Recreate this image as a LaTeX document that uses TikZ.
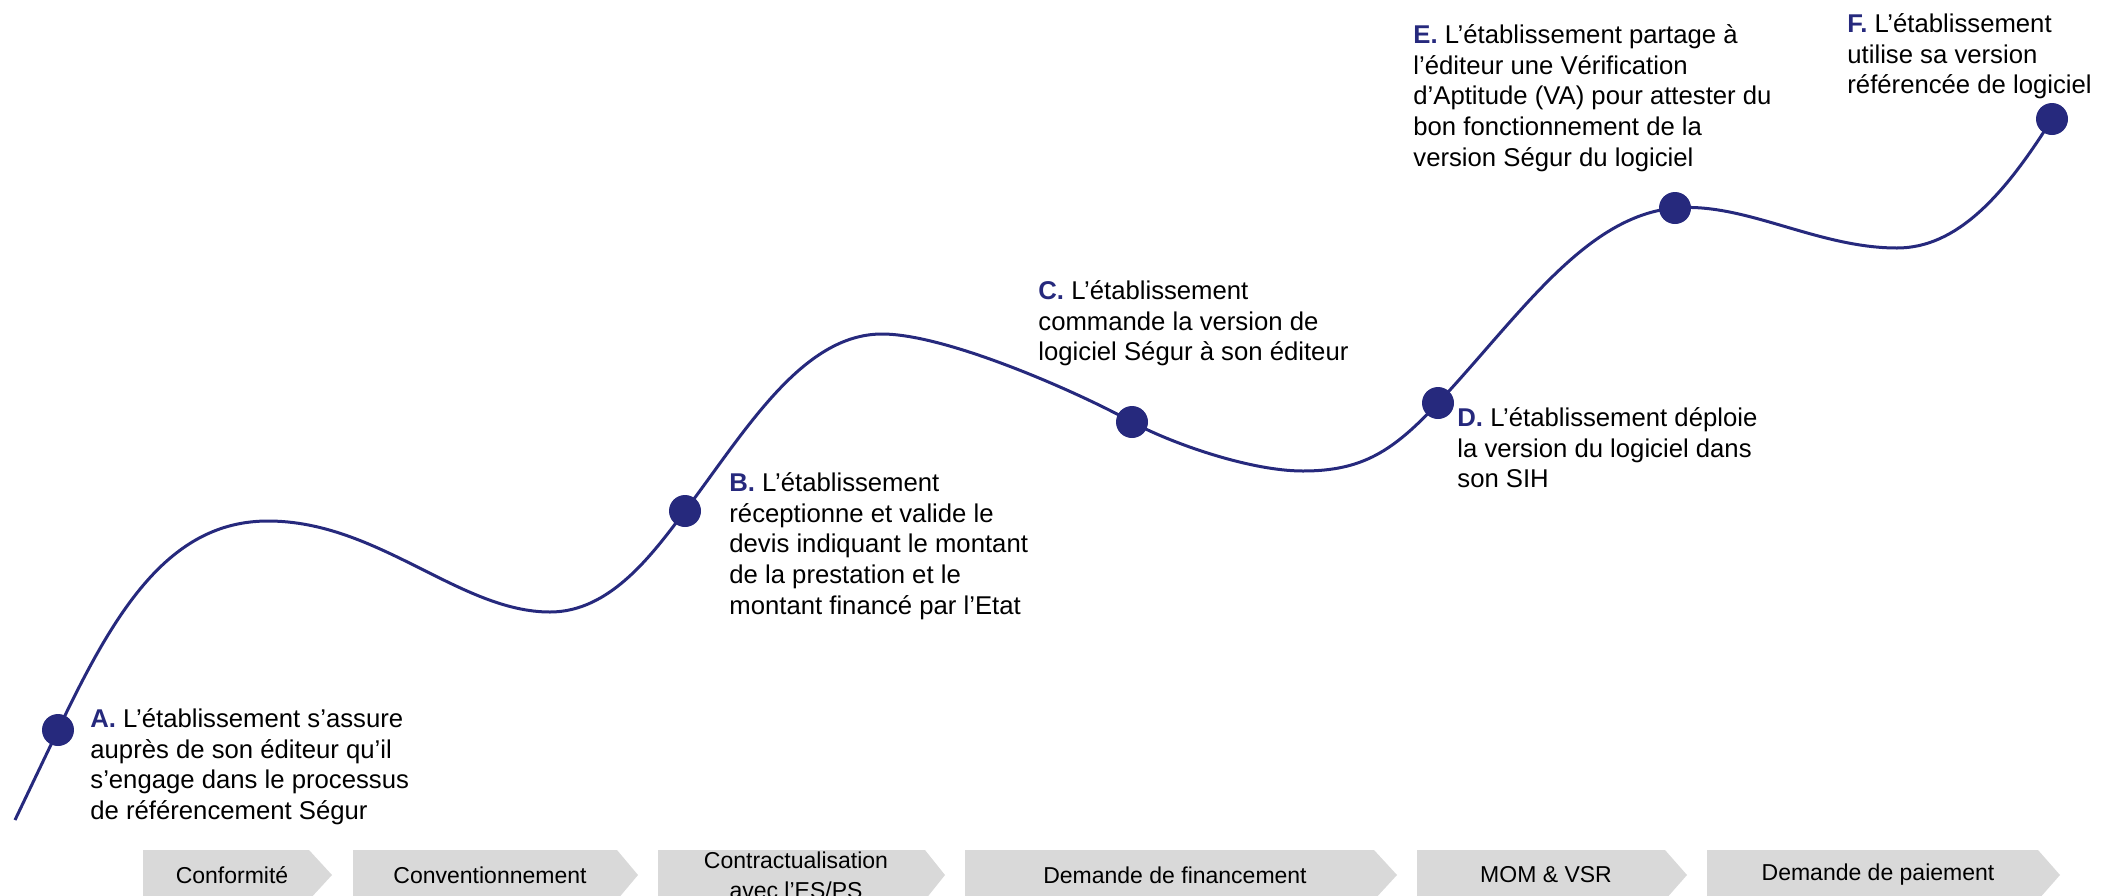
\documentclass[tikz,border=0pt]{standalone}
\usepackage{fontspec}
\setmainfont{Liberation Sans}
\usetikzlibrary{backgrounds}
\definecolor{navy}{RGB}{38,41,125}
\definecolor{chevgray}{RGB}{217,217,217}
\tikzset{
  curveline/.style={draw=navy, line width=1.5pt},
  dot/.style={circle, fill=navy, inner sep=0pt, minimum size=16pt},
  desc/.style={anchor=north west, inner sep=0pt, align=left, font=\fontsize{12.85pt}{15.4pt}\selectfont},
  chev/.style={fill=chevgray},
  chevtext/.style={inner sep=0pt, align=center, font=\fontsize{11.5pt}{15pt}\selectfont},
}
\newcommand{\stepletter}[1]{{\bfseries\color{navy}#1}}
\begin{document}
\begin{tikzpicture}[x=0.5pt,y=0.5pt]
\useasboundingbox (0,0) rectangle (2105,-895);

% dots
\node[dot] (A) at (58,-730) {};
\node[dot] (B) at (685,-511) {};
\node[dot] (C) at (1132,-422) {};
\node[dot] (D) at (1438,-403) {};
\node[dot] (E) at (1675,-208) {};
\node[dot] (F) at (2052,-119) {};

% curve key points
\coordinate (s0) at (15,-820);
\coordinate (p1) at (268,-521);
\coordinate (v1) at (550,-612);
\coordinate (p2) at (882,-334);
\coordinate (v2) at (1303,-471);
\coordinate (v3) at (1897,-248);

\begin{pgfonlayer}{background}
\draw[curveline] (s0) -- (A.center)
  .. controls +(64.5:130) and +(180:100) .. (p1)
  .. controls +(0:110) and +(180:90) .. (v1)
  .. controls +(0:60) and +(233:55) .. (B.center)
  .. controls +(53:100) and +(180:80) .. (p2)
  .. controls +(0:65) and +(151:60) .. (C.center)
  .. controls +(-29:40) and +(180:55) .. (v2)
  .. controls +(0:60) and +(227:65) .. (D.center)
  .. controls +(47:120) and +(185:90) .. (E.center)
  .. controls +(5:70) and +(180:80) .. (v3)
  .. controls +(0:60) and +(238:90) .. (F.center);
\end{pgfonlayer}

% descriptions
\node[desc] (tA) at (90,-705.4) {\strut\stepletter{A.} L’établissement s’assure\\auprès de son éditeur qu’il\\s’engage dans le processus\\de référencement Ségur};
\node[desc] (tB) at (729,-469.4) {\strut\stepletter{B.} L’établissement\\réceptionne et valide le\\devis indiquant le montant\\de la prestation et le\\montant financé par l’Etat};
\node[desc] (tC) at (1038,-277.4) {\strut\stepletter{C.} L’établissement\\commande la version de\\logiciel Ségur à son éditeur};
\node[desc] (tD) at (1457,-404.4) {\strut\stepletter{D.} L’établissement déploie\\la version du logiciel dans\\son SIH};
\node[desc] (tE) at (1413,-21.4) {\strut\stepletter{E.} L’établissement partage à\\l’éditeur une Vérification\\d’Aptitude (VA) pour attester du\\bon fonctionnement de la\\version Ségur du logiciel};
\node[desc] (tF) at (1847,-10.4) {\strut\stepletter{F.} L’établissement\\utilise sa version\\référencée de logiciel};

% chevrons
\fill[chev] (143,-850) -- (309,-850) -- (332,-875) -- (309,-900) -- (143,-900) -- cycle;
\fill[chev] (353,-850) -- (617,-850) -- (638,-875) -- (617,-900) -- (353,-900) -- cycle;
\fill[chev] (658,-850) -- (925,-850) -- (945,-875) -- (925,-900) -- (658,-900) -- cycle;
\fill[chev] (965,-850) -- (1374,-850) -- (1397,-875) -- (1374,-900) -- (965,-900) -- cycle;
\fill[chev] (1417,-850) -- (1665,-850) -- (1687,-875) -- (1665,-900) -- (1417,-900) -- cycle;
\fill[chev] (1707,-850) -- (2038,-850) -- (2060,-875) -- (2038,-900) -- (1707,-900) -- cycle;

\node[chevtext] (c1) at (232,-875) {Conformité};
\node[chevtext] (c2) at (490,-875) {Conventionnement};
\node[chevtext] (c3) at (796,-875) {Contractualisation\\avec l’ES/PS};
\node[chevtext] (c4) at (1175,-875) {Demande de financement};
\node[chevtext] (c5) at (1546,-875) {MOM \& VSR};
\node[chevtext] (c6) at (1878,-875) {Demande de paiement};
\end{tikzpicture}
\end{document}
